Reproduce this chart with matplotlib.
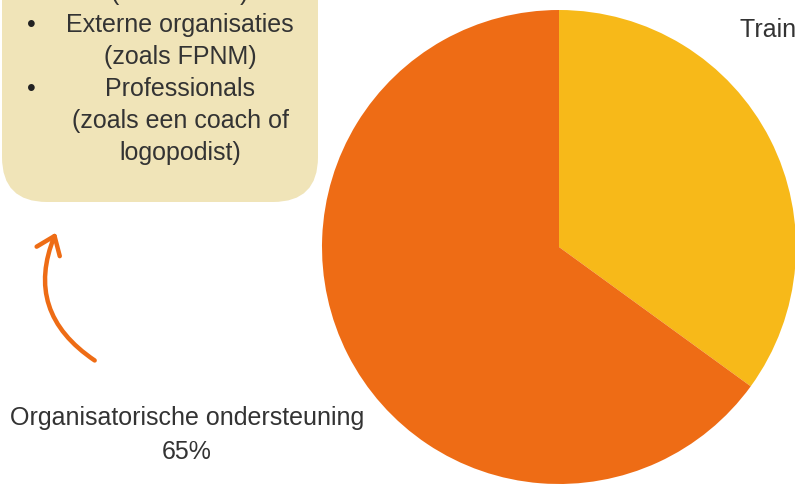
import matplotlib.pyplot as plt
from matplotlib.patches import FancyBboxPatch, FancyArrowPatch

plt.rcParams['font.family'] = ['Liberation Sans', 'DejaVu Sans']

# pie data
categories = ['Trainingen', 'Organisatorische ondersteuning']
shares = [35, 65]
slice_colors = ['#F7B919', '#EE6C15']

# text in the beige box (top lines are cut off in the original)
box_lines = ['(zoals DMA)', 'Externe organisaties', '(zoals FPNM)',
             'Professionals', '(zoals een coach of', 'logopodist)']
bullet_rows = [1, 3]

fs = 18
txt_color = '#333333'

fig = plt.figure(figsize=(7.95, 4.85), dpi=100)

# full-figure axes in pixel units for the annotations
ax = fig.add_axes([0, 0, 1, 1])
ax.set_xlim(0, 795)
ax.set_ylim(485, 0)
ax.axis('off')

box = FancyBboxPatch((2, -120), 316, 323, boxstyle='round,pad=0,rounding_size=45',
                     fc='#F0E4B8', ec='none')
ax.add_patch(box)

for i, line in enumerate(box_lines):
    y = -7 + 32 * i
    ax.text(180, y, line, ha='center', va='center', fontsize=fs, color=txt_color)
    if i in bullet_rows:
        ax.text(31, y, '\u2022', ha='center', va='center', fontsize=fs, color='#222222')

arrow = FancyArrowPatch((97, 363), (57, 231), connectionstyle='arc3,rad=-0.42',
                        arrowstyle='->,head_length=12,head_width=9', lw=3.2,
                        color='#EE6C15', capstyle='round', joinstyle='round')
ax.add_patch(arrow)

ax.text(187, 418, categories[1], ha='center', va='center', fontsize=fs, color=txt_color)
ax.text(187, 452, f'{shares[1]}%', ha='center', va='center', fontsize=fs, color=txt_color)
ax.text(740, 30, f'{categories[0]} {shares[0]}%', ha='left', va='center',
        fontsize=fs, color=txt_color)

# the pie itself
pie_ax = fig.add_axes([322 / 795, 0, 474 / 795, 474 / 485])
pie_ax.pie(shares, colors=slice_colors, startangle=90, counterclock=False,
           radius=1, wedgeprops={'linewidth': 0})
pie_ax.set_xlim(-1, 1)
pie_ax.set_ylim(-1, 1)
pie_ax.set_aspect('equal')
pie_ax.axis('off')

fig.savefig('out.png', dpi=100)
